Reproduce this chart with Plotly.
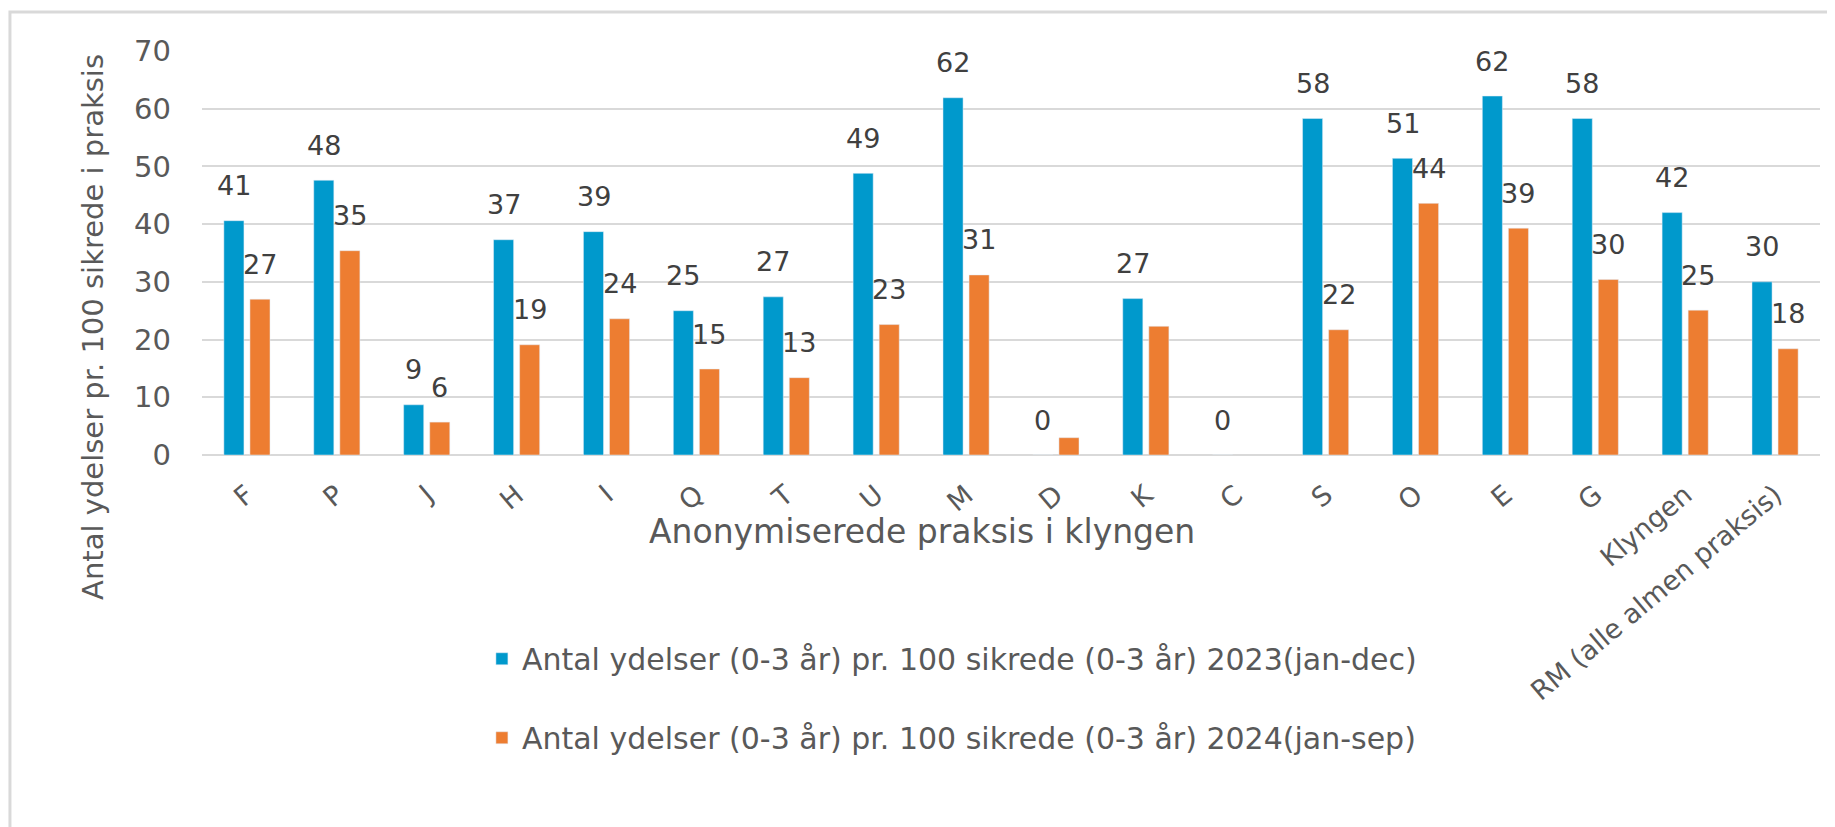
import plotly.graph_objects as go

categories = ["F", "P", "J", "H", "I", "Q", "T", "U", "M", "D", "K", "C",
              "S", "O", "E", "G", "Klyngen", "RM (alle almen praksis)"]
values_2023 = [40.6, 47.6, 8.7, 37.3, 38.7, 25.0, 27.4, 48.8, 61.9, 0.0, 27.1, 0.0,
               58.3, 51.4, 62.2, 58.3, 42.0, 30.0]
values_2024 = [27.0, 35.4, 5.7, 19.1, 23.6, 14.9, 13.4, 22.6, 31.2, 3.0, 22.3, None,
               21.7, 43.6, 39.3, 30.4, 25.1, 18.4]
labels_2023 = ["41", "48", "9", "37", "39", "25", "27", "49", "62", "0", "27", "0",
               "58", "51", "62", "58", "42", "30"]
labels_2024 = ["27", "35", "6", "19", "24", "15", "13", "23", "31", None, None, None,
               "22", "44", "39", "30", "25", "18"]
name_2023 = "Antal ydelser (0-3 år) pr. 100 sikrede (0-3 år) 2023(jan-dec)"
name_2024 = "Antal ydelser (0-3 år) pr. 100 sikrede (0-3 år) 2024(jan-sep)"
y_title = "Antal ydelser pr. 100 sikrede i praksis"
x_title = "Anonymiserede praksis i klyngen"
y_ticks = [0, 10, 20, 30, 40, 50, 60, 70]

BLUE = "#0099CC"
ORANGE = "#ED7D31"
GRID = "#D9D9D9"
TXT = "#595959"
FONT = "DejaVu Sans"

fig = go.Figure()
fig.add_trace(go.Bar(x=categories, y=values_2023, name=name_2023,
                     marker=dict(color=BLUE), legendgroup="a", hoverinfo="skip"))
fig.add_trace(go.Bar(x=categories, y=values_2024, name=name_2024,
                     marker=dict(color=ORANGE), legendgroup="b", hoverinfo="skip"))

annotations = []
for cat, v, lab in zip(categories, values_2023, labels_2023):
    if lab is not None and v is not None:
        annotations.append(dict(x=cat, y=v, xref="x", yref="y", text=lab, showarrow=False,
                                xshift=-13, yshift=35,
                                font=dict(family=FONT, size=27, color="#404040")))
for cat, v, lab in zip(categories, values_2024, labels_2024):
    if lab is not None and v is not None:
        annotations.append(dict(x=cat, y=v, xref="x", yref="y", text=lab, showarrow=False,
                                xshift=13, yshift=35,
                                font=dict(family=FONT, size=27, color="#404040")))

annotations.append(dict(text=y_title, xref="paper", yref="paper", x=-0.0674, y=0.317,
                        textangle=-90, showarrow=False, xanchor="center", yanchor="middle",
                        font=dict(family=FONT, size=29, color=TXT)))
annotations.append(dict(text=x_title, xref="paper", yref="paper", x=0.445, y=-0.19,
                        showarrow=False, xanchor="center", yanchor="middle",
                        font=dict(family=FONT, size=33, color=TXT)))

fig.update_layout(
    width=1827, height=819,
    margin=dict(l=194, r=15, t=43, b=372),
    paper_bgcolor="white", plot_bgcolor="white",
    barmode="group", bargap=0.42, bargroupgap=0.23,
    showlegend=True,
    legend=dict(x=0.173, y=-0.44, xanchor="left", yanchor="top",
                font=dict(family=FONT, size=30, color=TXT),
                tracegroupgap=37, traceorder="grouped", bgcolor="rgba(0,0,0,0)"),
    annotations=annotations,
    shapes=[dict(type="rect", xref="paper", yref="paper", x0=-0.1187, x1=1.3,
                 y0=-2, y1=1.0965, line=dict(color=GRID, width=3), layer="below")],
)
fig.update_xaxes(type="category", showgrid=False, zeroline=False, showline=False,
                 tickangle=-40, ticks="", ticklabelstandoff=18,
                 tickfont=dict(family=FONT, size=27, color=TXT))
fig.update_yaxes(range=[0, 70], tickvals=y_ticks, showgrid=True, gridcolor=GRID, gridwidth=2,
                 zeroline=True, zerolinecolor=GRID, zerolinewidth=2, showline=False,
                 ticks="", ticklabelstandoff=30,
                 tickfont=dict(family=FONT, size=29, color=TXT))

fig.write_html("out.html")
